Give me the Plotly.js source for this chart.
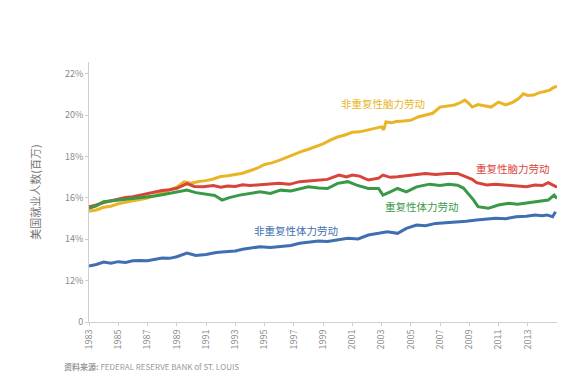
<!DOCTYPE html>
<html><head><meta charset="utf-8">
<script src="https://cdn.plot.ly/plotly-3.0.1.min.js"></script>
<style>html,body{margin:0;padding:0;background:#fff}#c{width:576px;height:381px}</style>
</head><body><div id="c"></div>
<script>
const seriesNames = ['非重复性脑力劳动','重复性脑力劳动','重复性体力劳动','非重复性体力劳动'];
const goldX = [1983.0,1983.5,1984.0,1984.5,1985.0,1985.5,1986.0,1986.5,1987.0,1987.5,1988.0,1988.5,1989.0,1989.5,1990.0,1990.5,1991.0,1991.5,1992.0,1992.5,1993.0,1993.5,1994.0,1994.5,1995.0,1995.5,1996.0,1996.5,1997.0,1997.5,1998.0,1998.5,1999.0,1999.5,2000.0,2000.5,2001.0,2001.5,2002.0,2002.5,2003.0,2003.15,2003.3,2003.7,2004.0,2004.5,2005.0,2005.5,2006.0,2006.5,2007.0,2007.5,2008.0,2008.4,2008.7,2009.0,2009.2,2009.6,2010.0,2010.5,2011.0,2011.5,2012.0,2012.4,2012.7,2013.0,2013.4,2013.8,2014.1,2014.5,2014.8,2015.0];
const goldY = [15.36,15.42,15.55,15.60,15.72,15.80,15.86,15.92,16.00,16.12,16.25,16.38,16.52,16.78,16.72,16.80,16.84,16.92,17.04,17.08,17.14,17.20,17.32,17.44,17.62,17.70,17.82,17.96,18.12,18.24,18.36,18.50,18.62,18.80,18.95,19.05,19.18,19.20,19.28,19.38,19.44,19.30,19.68,19.64,19.70,19.72,19.76,19.92,20.02,20.10,20.40,20.46,20.50,20.62,20.74,20.56,20.40,20.52,20.48,20.40,20.64,20.50,20.64,20.82,21.04,20.96,20.98,21.10,21.14,21.22,21.36,21.40];
const redX = [1983.0,1983.5,1984.0,1984.5,1985.0,1985.5,1986.0,1986.5,1987.0,1987.5,1988.0,1988.5,1989.0,1989.7,1990.2,1990.8,1991.5,1992.0,1992.5,1993.0,1993.5,1994.0,1994.7,1995.3,1996.0,1996.7,1997.4,1998.0,1998.7,1999.3,2000.1,2000.6,2001.0,2001.5,2002.1,2002.8,2003.1,2003.6,2004.1,2004.7,2005.3,2006.0,2006.7,2007.5,2008.2,2008.8,2009.2,2009.5,2010.2,2010.8,2011.5,2012.2,2012.9,2013.5,2014.0,2014.4,2014.9,2015.0];
const redY = [15.58,15.66,15.78,15.86,15.95,16.02,16.06,16.14,16.22,16.28,16.36,16.40,16.47,16.70,16.56,16.54,16.60,16.52,16.58,16.56,16.64,16.60,16.63,16.68,16.71,16.66,16.79,16.82,16.87,16.90,17.11,17.02,17.11,17.06,16.87,16.96,17.11,17.00,17.03,17.08,17.11,17.19,17.14,17.19,17.19,17.03,16.90,16.74,16.63,16.66,16.63,16.60,16.54,16.63,16.60,16.74,16.54,16.52];
const greenX = [1983.0,1983.5,1984.0,1984.5,1985.0,1985.5,1986.0,1986.5,1987.0,1987.5,1988.0,1988.5,1989.0,1989.7,1990.3,1991.0,1991.6,1992.1,1992.6,1993.3,1994.0,1994.7,1995.4,1996.1,1996.8,1997.4,1998.0,1998.7,1999.3,2000.0,2000.7,2001.3,2002.1,2002.8,2003.1,2003.6,2004.1,2004.7,2005.4,2006.3,2007.0,2007.6,2008.2,2008.6,2008.9,2009.3,2009.6,2010.3,2011.0,2011.7,2012.3,2013.0,2013.7,2014.4,2014.8,2015.0];
const greenY = [15.50,15.62,15.82,15.86,15.90,15.94,15.96,16.00,16.06,16.10,16.16,16.22,16.30,16.38,16.26,16.20,16.12,15.90,16.02,16.14,16.22,16.30,16.22,16.38,16.34,16.44,16.54,16.48,16.46,16.71,16.79,16.62,16.46,16.46,16.14,16.30,16.46,16.30,16.54,16.67,16.60,16.66,16.62,16.48,16.22,15.90,15.58,15.50,15.66,15.74,15.70,15.77,15.82,15.90,16.14,15.98];
const blueX = [1983.0,1983.5,1984.0,1984.5,1985.0,1985.5,1986.0,1986.5,1987.0,1987.5,1988.0,1988.5,1989.0,1989.7,1990.3,1991.0,1991.7,1992.3,1993.0,1993.5,1994.0,1994.7,1995.4,1996.1,1996.8,1997.4,1998.0,1998.7,1999.3,2000.1,2000.7,2001.4,2002.1,2002.8,2003.4,2004.1,2004.7,2005.4,2006.0,2006.7,2007.4,2008.1,2008.8,2009.5,2010.2,2010.8,2011.5,2012.2,2012.9,2013.5,2014.0,2014.3,2014.7,2014.9];
const blueY = [12.71,12.78,12.90,12.84,12.92,12.88,12.96,12.98,12.96,13.04,13.10,13.08,13.16,13.34,13.22,13.27,13.36,13.40,13.44,13.52,13.56,13.64,13.60,13.64,13.70,13.81,13.86,13.92,13.90,14.00,14.05,14.02,14.21,14.29,14.37,14.29,14.53,14.69,14.66,14.77,14.80,14.85,14.88,14.93,14.96,15.02,15.00,15.09,15.12,15.18,15.14,15.18,15.09,15.33];
const xTicks = [1983,1985,1987,1989,1991,1993,1995,1997,1999,2001,2003,2005,2007,2009,2011,2013];
const yTicks = [10,12,14,16,18,20,22];
const yTickText = ['0','12%','14%','16%','18%','20%','22%'];
const colors = ['#E9B526','#D8443A','#3A9947','#3F6EB1'];

const traces = [
  {x: goldX, y: goldY, name: seriesNames[0]},
  {x: redX, y: redY, name: seriesNames[1]},
  {x: greenX, y: greenY, name: seriesNames[2]},
  {x: blueX, y: blueY, name: seriesNames[3]}
].map((t,i)=>Object.assign(t,{type:'scatter',mode:'lines',line:{color:colors[i],width:3},hoverinfo:'skip'}));

const fam = '"Noto Sans CJK SC","Noto Sans",sans-serif';
const layout = {
  width:576,height:381,
  margin:{l:89,r:19,t:62,b:59},
  paper_bgcolor:'#fff',plot_bgcolor:'#fff',
  showlegend:false,
  font:{family:fam,color:'#888'},
  xaxis:{range:[1983,2015],tickvals:xTicks,tickangle:-90,showgrid:false,zeroline:false,
    showline:true,linecolor:'#cfcfcf',linewidth:1,ticks:'outside',ticklen:3,tickcolor:'#cfcfcf',
    tickfont:{size:9,color:'#8a8a8a'}},
  yaxis:{range:[10,22.58],tickvals:yTicks,ticktext:yTickText,showgrid:false,zeroline:false,
    showline:true,linecolor:'#cfcfcf',linewidth:1,ticks:'outside',ticklen:3,tickcolor:'#cfcfcf',
    tickfont:{size:9,color:'#8a8a8a'},
    title:{text:'美国就业人数(百万)',font:{size:11,color:'#777'},standoff:22}},
  annotations:[
    {xref:'x',yref:'y',x:2003.1,y:20.56,text:seriesNames[0],showarrow:false,font:{size:10.5,color:colors[0]}},
    {xref:'x',yref:'y',x:2012.0,y:17.41,text:seriesNames[1],showarrow:false,font:{size:10.5,color:colors[1]}},
    {xref:'x',yref:'y',x:2005.8,y:15.57,text:seriesNames[2],showarrow:false,font:{size:10.5,color:colors[2]}},
    {xref:'x',yref:'y',x:1997.15,y:14.45,text:seriesNames[3],showarrow:false,font:{size:10.5,color:colors[3]}},
    {xref:'paper',yref:'paper',x:-0.058,y:-0.17,xanchor:'left',yanchor:'middle',showarrow:false,
      text:'<b>资料来源:</b> FEDERAL RESERVE BANK of ST. LOUIS',font:{size:8,color:'#999'}}
  ]
};
Plotly.newPlot('c',traces,layout,{staticPlot:true,displayModeBar:false});
</script></body></html>
